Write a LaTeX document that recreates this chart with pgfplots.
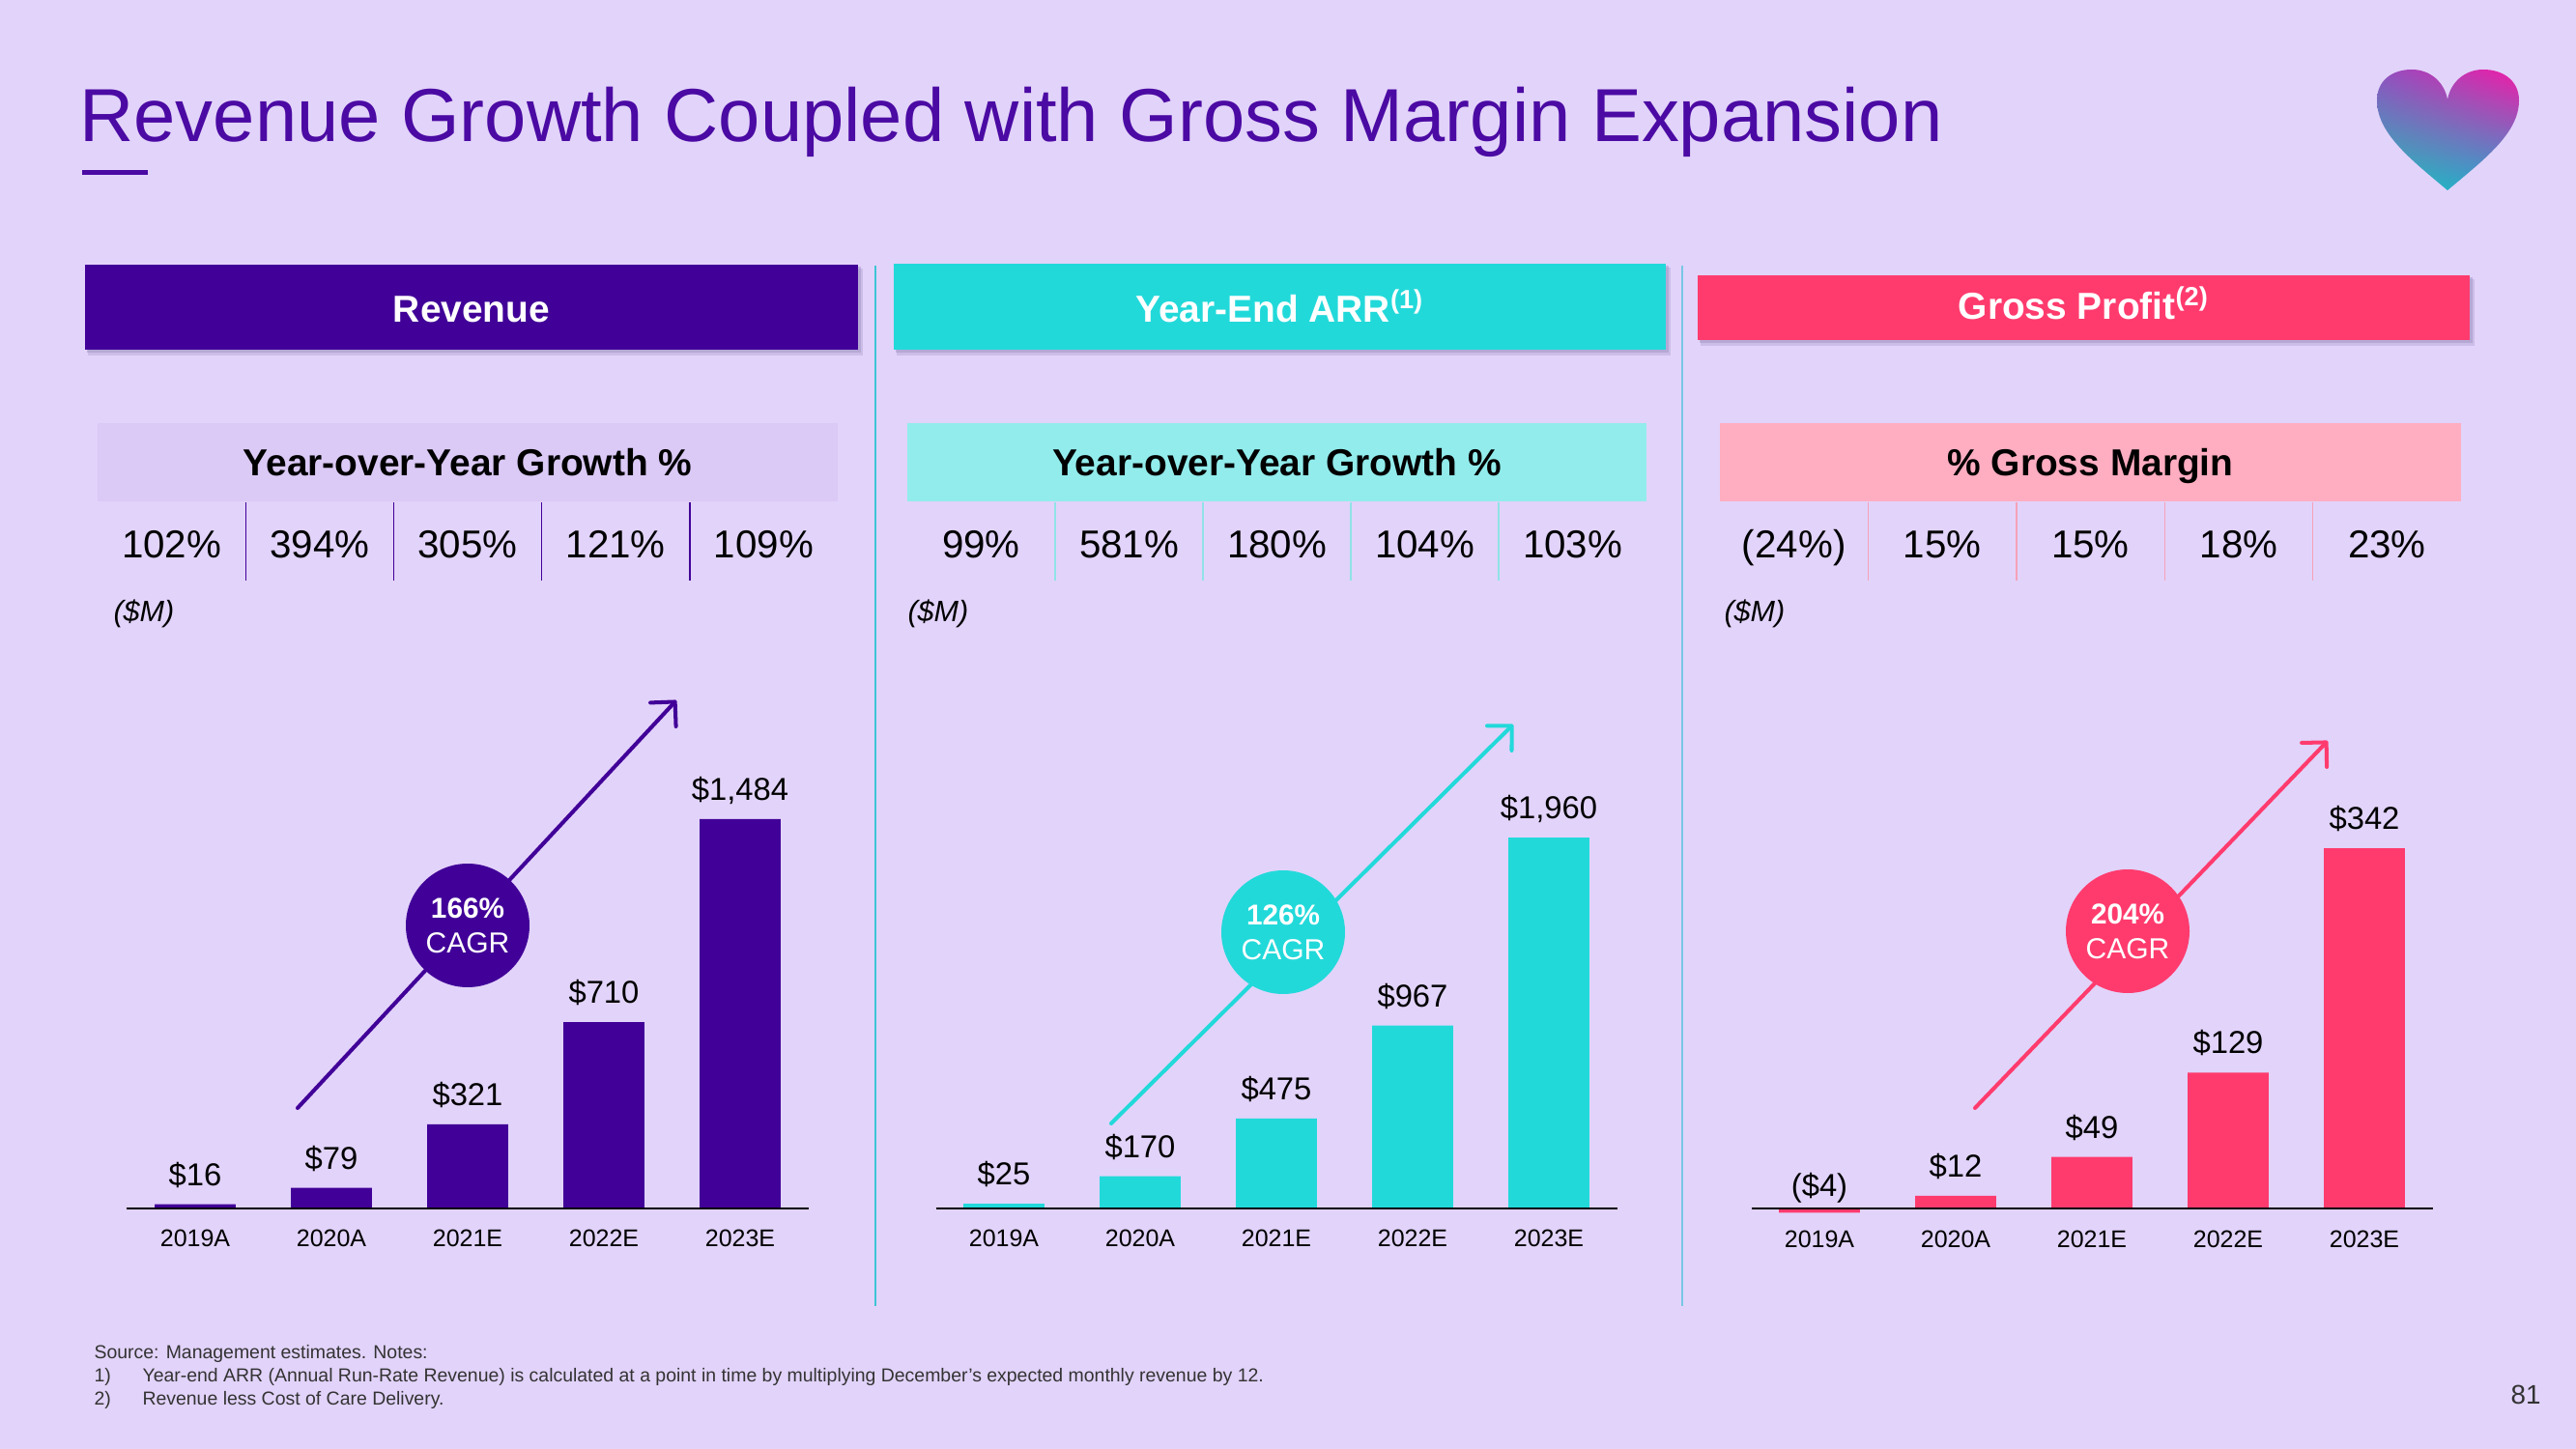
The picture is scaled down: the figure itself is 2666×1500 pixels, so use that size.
\documentclass[border=0pt]{standalone}
\usepackage{fontspec}
\setmainfont{Liberation Sans}
\usepackage{pgfplots}
\pgfplotsset{compat=1.18}
\usetikzlibrary{arrows.meta,shadings}
\definecolor{bg}{HTML}{E2D3FA}
\definecolor{titlepurple}{HTML}{4B0AA3}
\definecolor{rev}{HTML}{410098}
\definecolor{arr}{HTML}{22D9DA}
\definecolor{gp}{HTML}{FF3B6E}
\definecolor{revlight}{HTML}{DBC9F6}
\definecolor{arrlight}{HTML}{92ECEC}
\definecolor{gplight}{HTML}{FFADC1}
\definecolor{arrdiv}{HTML}{8FE3E6}
\definecolor{gpdiv}{HTML}{F6A2B8}
\definecolor{sepA}{HTML}{3CC6D4}
\definecolor{sepB}{HTML}{78C6E6}
\definecolor{shadowc}{HTML}{A194C4}
\definecolor{footgray}{HTML}{333333}
\definecolor{hUL}{HTML}{9050C0}
\definecolor{hUR}{HTML}{F21AA6}
\definecolor{hLL}{HTML}{1FC2B8}
\definecolor{hLR}{HTML}{2E9ED2}
\newcommand{\fs}[1]{\fontsize{#1}{#1}\selectfont}
\pgfplotsset{
  panel/.style={
    anchor=south west, enlargelimits=false,
    xmin=-0.5, xmax=4.5, ymin=0,
    axis x line=bottom, axis y line=none,
    axis line style={-, line width=0.9pt, black},
    axis on top, clip=false,
    xtick={0,1,2,3,4},
    xticklabels={2019A,2020A,2021E,2022E,2023E},
    major tick length=0pt,
    xticklabel style={font=\fs{9pt}, anchor=base, yshift=-14.4pt, inner sep=0pt, text=black},
    x=50.76pt,
  },
  vlabels/.style={draw=none, mark=none, nodes near coords, point meta=explicit symbolic,
    every node near coord/.append style={anchor=base, yshift=7pt, inner sep=0pt, font=\fs{11.8pt}, text=black}},
}
\begin{document}
\begin{tikzpicture}[x=0.36pt, y=-0.36pt]
\fill[bg] (0,0) rectangle (2666,1500);
% title
\node[anchor=base west, inner sep=0pt, text=titlepurple, font=\fs{28pt}] at (82,147) {Revenue Growth Coupled with Gross Margin Expansion};
\draw[titlepurple, line width=1.8pt] (85,179) -- (153,179);
% heart
\shade[upper left=hUL, upper right=hUR, lower left=hLL, lower right=hLR]
  (2533,197) .. controls (2495,165) and (2460,138) .. (2460,104) .. controls (2460,83) and (2476,72) .. (2496,72) .. controls (2516,72) and (2530,86) .. (2533,103) .. controls (2536,86) and (2550,72) .. (2570,72) .. controls (2590,72) and (2607,83) .. (2607,104) .. controls (2607,138) and (2571,165) .. (2533,197) -- cycle;
% separators
\draw[sepA, line width=0.8pt] (906,275) -- (906,1352);
\draw[sepB, line width=0.6pt] (1741,275) -- (1741,1352);
% headers with shadows
\fill[shadowc, opacity=0.35] (91,278) rectangle (893,368);
\fill[shadowc, opacity=0.5] (90,276) rectangle (891,365);
\fill[rev] (88,274) rectangle (888,362);
\node[anchor=base, text=white, font=\bfseries\fs{14pt}] at (488,334) {Revenue};
\fill[shadowc, opacity=0.35] (928,277) rectangle (1729,368);
\fill[shadowc, opacity=0.5] (927,275) rectangle (1727,365);
\fill[arr] (925,273) rectangle (1724,362);
\node[anchor=base, text=white, font=\bfseries\fs{14pt}] at (1324.5,334) {Year-End ARR\textsuperscript{(1)}};
\fill[shadowc, opacity=0.35] (1760,289) rectangle (2561,358);
\fill[shadowc, opacity=0.5] (1759,287) rectangle (2559,355);
\fill[gp] (1757,285) rectangle (2556,352);
\node[anchor=base, text=white, font=\bfseries\fs{14pt}] at (2156.5,331) {Gross Profit\textsuperscript{(2)}};
% sub-headers
\fill[revlight] (101,438) rectangle (867,519);
\node[anchor=base, font=\bfseries\fs{14pt}] at (484,493) {Year-over-Year Growth \%};
\fill[arrlight] (939,438) rectangle (1704,519);
\node[anchor=base, font=\bfseries\fs{14pt}] at (1321.5,493) {Year-over-Year Growth \%};
\fill[gplight] (1780,438) rectangle (2547,519);
\node[anchor=base, font=\bfseries\fs{14pt}] at (2163.5,493) {\% Gross Margin};
% growth rows
\foreach \v [count=\i from 0] in {102\%,394\%,305\%,121\%,109\%}
  \node[anchor=base, font=\fs{14.5pt}] at (177.6+153.2*\i,578) {\v};
\foreach \i in {1,2,3,4} \draw[rev, line width=0.5pt] (101+153.2*\i,520) -- (101+153.2*\i,601);
\foreach \v [count=\i from 0] in {99\%,581\%,180\%,104\%,103\%}
  \node[anchor=base, font=\fs{14.5pt}] at (1015.5+153*\i,578) {\v};
\foreach \i in {1,2,3,4} \draw[arrdiv, line width=0.5pt] (939+153*\i,520) -- (939+153*\i,601);
\foreach \v [count=\i from 0] in {(24\%),15\%,15\%,18\%,23\%}
  \node[anchor=base, font=\fs{14.5pt}] at (1856.7+153.4*\i,578) {\v};
\foreach \i in {1,2,3,4} \draw[gpdiv, line width=0.5pt] (1780+153.4*\i,520) -- (1780+153.4*\i,601);
% ($M)
\node[anchor=base west, inner sep=0pt, font=\itshape\fs{11pt}] at (117,644) {(\$M)};
\node[anchor=base west, inner sep=0pt, font=\itshape\fs{11pt}] at (939,644) {(\$M)};
\node[anchor=base west, inner sep=0pt, font=\itshape\fs{11pt}] at (1784,644) {(\$M)};
% panel 1 chart
\begin{axis}[panel, at={(47.34pt,-450.36pt)}, y=0.09778pt, ymax=1560]
\addplot[ybar, bar width=30.2pt, fill=rev, draw=none] coordinates {(0,16) (1,79) (2,321) (3,710) (4,1484)};
\addplot[vlabels] coordinates {(0,16) [\$16] (1,79) [\$79] (2,321) [\$321] (3,710) [\$710] (4,1484) [\$1,484]};
\end{axis}
% panel 2 chart
\begin{axis}[panel, at={(348.66pt,-450.36pt)}, y=0.07049pt, ymax=2100]
\addplot[ybar, bar width=30.2pt, fill=arr, draw=none] coordinates {(0,25) (1,170) (2,475) (3,967) (4,1960)};
\addplot[vlabels] coordinates {(0,25) [\$25] (1,170) [\$170] (2,475) [\$475] (3,967) [\$967] (4,1960) [\$1,960]};
\end{axis}
% panel 3 chart
\begin{axis}[panel, at={(652.5pt,-450.36pt)}, y=0.3926pt, ymax=370]
\addplot[ybar, bar width=30.2pt, fill=gp, draw=none] coordinates {(0,-4) (1,12) (2,49) (3,129) (4,342)};
\addplot[vlabels] coordinates {(0,-6) [(\$4)] (1,12) [\$12] (2,49) [\$49] (3,129) [\$129] (4,342) [\$342]};
\end{axis}
% CAGR arrows and circles
\draw[rev, line width=1.45pt, line cap=round, -{Straight Barb[length=6.5pt, width=13pt, round]}] (308,1147) -- (700,725);
\fill[rev] (484,958) circle[radius=23.04pt];
\node[anchor=base, text=white, font=\bfseries\fs{10.7pt}] at (484,950.5) {166\%};
\node[anchor=base, text=white, font=\fs{10.8pt}] at (484,986.5) {CAGR};
\draw[arr, line width=1.45pt, line cap=round, -{Straight Barb[length=6.5pt, width=13pt, round]}] (1150,1163) -- (1566,750);
\fill[arr] (1328,965) circle[radius=23.04pt];
\node[anchor=base, text=white, font=\bfseries\fs{10.7pt}] at (1328,957.5) {126\%};
\node[anchor=base, text=white, font=\fs{10.8pt}] at (1328,993.5) {CAGR};
\draw[gp, line width=1.45pt, line cap=round, -{Straight Barb[length=6.5pt, width=13pt, round]}] (2044,1147) -- (2409,767);
\fill[gp] (2202,964) circle[radius=23.04pt];
\node[anchor=base, text=white, font=\bfseries\fs{10.7pt}] at (2202,956.5) {204\%};
\node[anchor=base, text=white, font=\fs{10.8pt}] at (2202,992.5) {CAGR};
% footnotes
\node[anchor=base west, inner sep=0pt, font=\fs{7pt}, text=footgray] at (97,1406) {Source: Management estimates. Notes:};
\node[anchor=base west, inner sep=0pt, font=\fs{7pt}, text=footgray] at (97,1430) {1)};
\node[anchor=base west, inner sep=0pt, font=\fs{7pt}, text=footgray] at (147,1430) {Year-end ARR (Annual Run-Rate Revenue) is calculated at a point in time by multiplying December’s expected monthly revenue by 12.};
\node[anchor=base west, inner sep=0pt, font=\fs{7pt}, text=footgray] at (97,1454) {2)};
\node[anchor=base west, inner sep=0pt, font=\fs{7pt}, text=footgray] at (147,1454) {Revenue less Cost of Care Delivery.};
\node[anchor=base east, inner sep=0pt, font=\fs{10pt}, text=footgray] at (2630,1453) {81};
\end{tikzpicture}
\end{document}
